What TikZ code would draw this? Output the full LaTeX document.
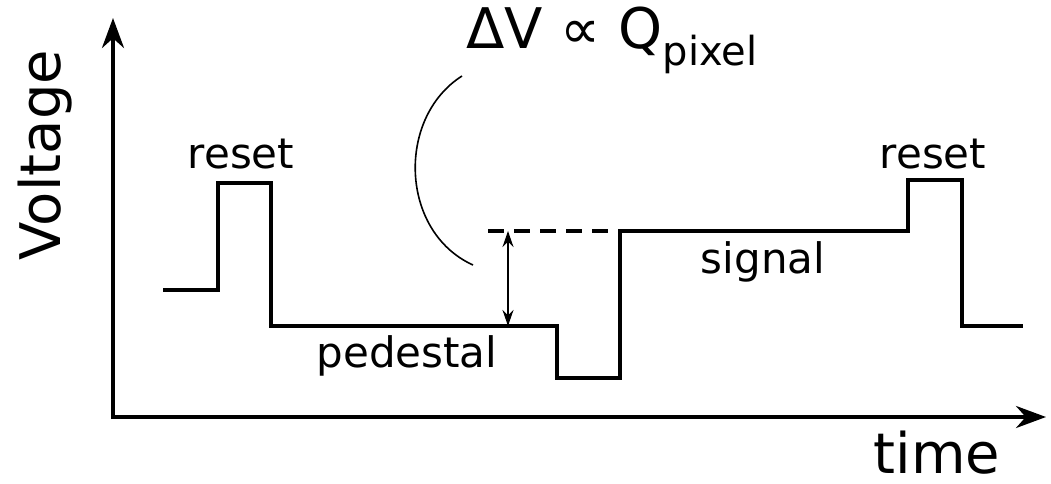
\documentclass[tikz,border=0pt]{standalone}
\usepackage{fontspec}
\setmainfont{DejaVu Sans}
\usetikzlibrary{arrows.meta}

\begin{document}
\begin{tikzpicture}[x=0.5pt,y=-0.5pt,
    lbl/.style={font=\fontsize{21}{24}\selectfont, inner sep=0pt},
    axlbl/.style={font=\fontsize{28}{32}\selectfont, inner sep=0pt}]
    \useasboundingbox (0,0) rectangle (1051,483);

    % Axes
    \coordinate (o) at (113,417);
    \coordinate (ytop) at (113,18);
    \coordinate (xend) at (1046,417);
    \draw[-{Stealth[length=15pt,width=11pt]},line width=2pt] (113,419) -- (ytop);
    \draw[-{Stealth[length=15pt,width=11pt]},line width=2pt] (111,417) -- (xend);
    \node[axlbl,rotate=90] (volt) at (45,155) {Voltage};
    \node[axlbl] (time) at (937,453) {time};

    % Waveform
    \coordinate (w0) at (163,290);
    \coordinate (w1) at (218,183);
    \coordinate (w2) at (271,326);
    \coordinate (w3) at (557,378);
    \coordinate (w4) at (620,231);
    \coordinate (w5) at (908,180);
    \coordinate (w6) at (962,326);
    \coordinate (w7) at (1023,326);
    \draw[line width=2pt] (w0) -| (w1) -| (w2) -| (w3) -| (w4) -| (w5) -| (w6) -- (w7);

    % Labels
    \node[lbl] (reset1) at (241,154) {reset};
    \node[lbl] (reset2) at (933,154) {reset};
    \node[lbl] (ped) at (407,356) {pedestal};
    \node[lbl] (sig) at (763,262) {signal};

    % Delta V
    \coordinate (dash0) at (488,231);
    \draw[line width=2pt,dash pattern=on 8pt off 5pt] (dash0) -- (w4);
    \coordinate (da) at (508,231);
    \coordinate (db) at (508,326);
    \draw[{Stealth[length=8pt,width=5.5pt]}-{Stealth[length=8pt,width=5.5pt]},line width=0.8pt] (da) -- (db);
    \node[inner sep=0pt] (dv) at (612,40)
        {\fontsize{28}{32}\selectfont ΔV ∝ Q\raisebox{-0.3em}{\fontsize{20}{24}\selectfont pixel}};
    \coordinate (arc0) at (462,76);
    \coordinate (arc1) at (473,265);
    \draw[line width=0.8pt] (arc0) .. controls (396,118) and (400,232) .. (arc1);
\end{tikzpicture}
\end{document}
